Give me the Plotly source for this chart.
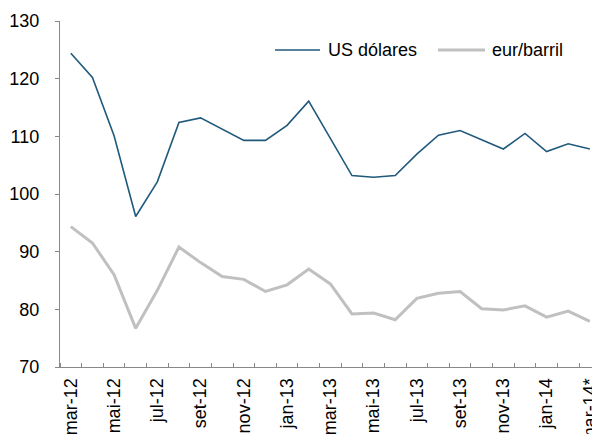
import plotly.graph_objects as go

months = ["mar-12","abr-12","mai-12","jun-12","jul-12","ago-12","set-12","out-12","nov-12","dez-12",
          "jan-13","fev-13","mar-13","abr-13","mai-13","jun-13","jul-13","ago-13","set-13","out-13",
          "nov-13","dez-13","jan-14","fev-14","mar-14*"]
usd = [124.4,120.2,110.1,96.1,102.1,112.4,113.2,111.3,109.3,109.3,
       111.9,116.1,109.6,103.2,102.9,103.2,106.9,110.2,111.0,109.4,
       107.8,110.5,107.35,108.7,107.8]
eur = [94.35,91.5,86.0,76.7,83.3,90.8,88.1,85.7,85.2,83.1,
       84.25,87.0,84.4,79.2,79.35,78.2,81.9,82.8,83.1,80.1,
       79.9,80.6,78.65,79.7,77.9]
tick_labels = months[::2]
series_names = ["US dólares", "eur/barril"]
series_colors = ["#1F5A7C", "#C0C0C0"]
series_widths = [1.6, 3]

x = list(range(len(months)))
fig = go.Figure()
for name, vals, col, w in zip(series_names, [usd, eur], series_colors, series_widths):
    fig.add_trace(go.Scatter(x=x, y=vals, mode="lines", name=name,
                             line=dict(color=col, width=w), showlegend=False))

font = dict(family="Liberation Sans, Arial, sans-serif", size=18, color="#000000")

# manual legend (paper coords: plot area spans x 60..592, y 21..367 px)
def px_x(p):
    return (p - 60) / 532.0
def px_y(p):
    return (367 - p) / 346.0

leg_y = px_y(50)
for (x0, x1, tx), name, col, w in zip([(275, 320, 326), (438, 485, 490)], series_names,
                                      series_colors, series_widths):
    fig.add_shape(type="line", xref="paper", yref="paper", x0=px_x(x0), x1=px_x(x1),
                  y0=leg_y, y1=leg_y, line=dict(color=col, width=w))
    fig.add_annotation(xref="paper", yref="paper", x=px_x(tx), y=leg_y, text=name,
                       showarrow=False, xanchor="left", yanchor="middle", font=font)

fig.update_layout(
    width=592, height=434,
    margin=dict(l=60, r=0, t=21, b=67),
    paper_bgcolor="white", plot_bgcolor="white",
    font=font,
    showlegend=False,
    xaxis=dict(range=[-0.5, 24.1], tickmode="array", tickvals=x[::2], ticktext=tick_labels,
               tickangle=-90, ticks="", showgrid=False, zeroline=False, automargin=False,
               showline=True, linecolor="#888888", linewidth=1.3, ticklabelstandoff=3,
               ticklabeloverflow="allow",
               minor=dict(tickmode="linear", tick0=0.5, dtick=1, ticks="inside",
                          ticklen=4, tickcolor="#888888", tickwidth=1, showgrid=False)),
    yaxis=dict(range=[70, 130], tickvals=[70,80,90,100,110,120,130], ticks="outside",
               ticklen=4, tickcolor="#888888", showgrid=False, zeroline=False, automargin=False,
               showline=True, linecolor="#888888", linewidth=1.3, ticklabelstandoff=12),
)
fig.write_html("out.html", config={"displayModeBar": False},
               post_script="document.body.style.margin='0';document.body.style.overflow='hidden';")
